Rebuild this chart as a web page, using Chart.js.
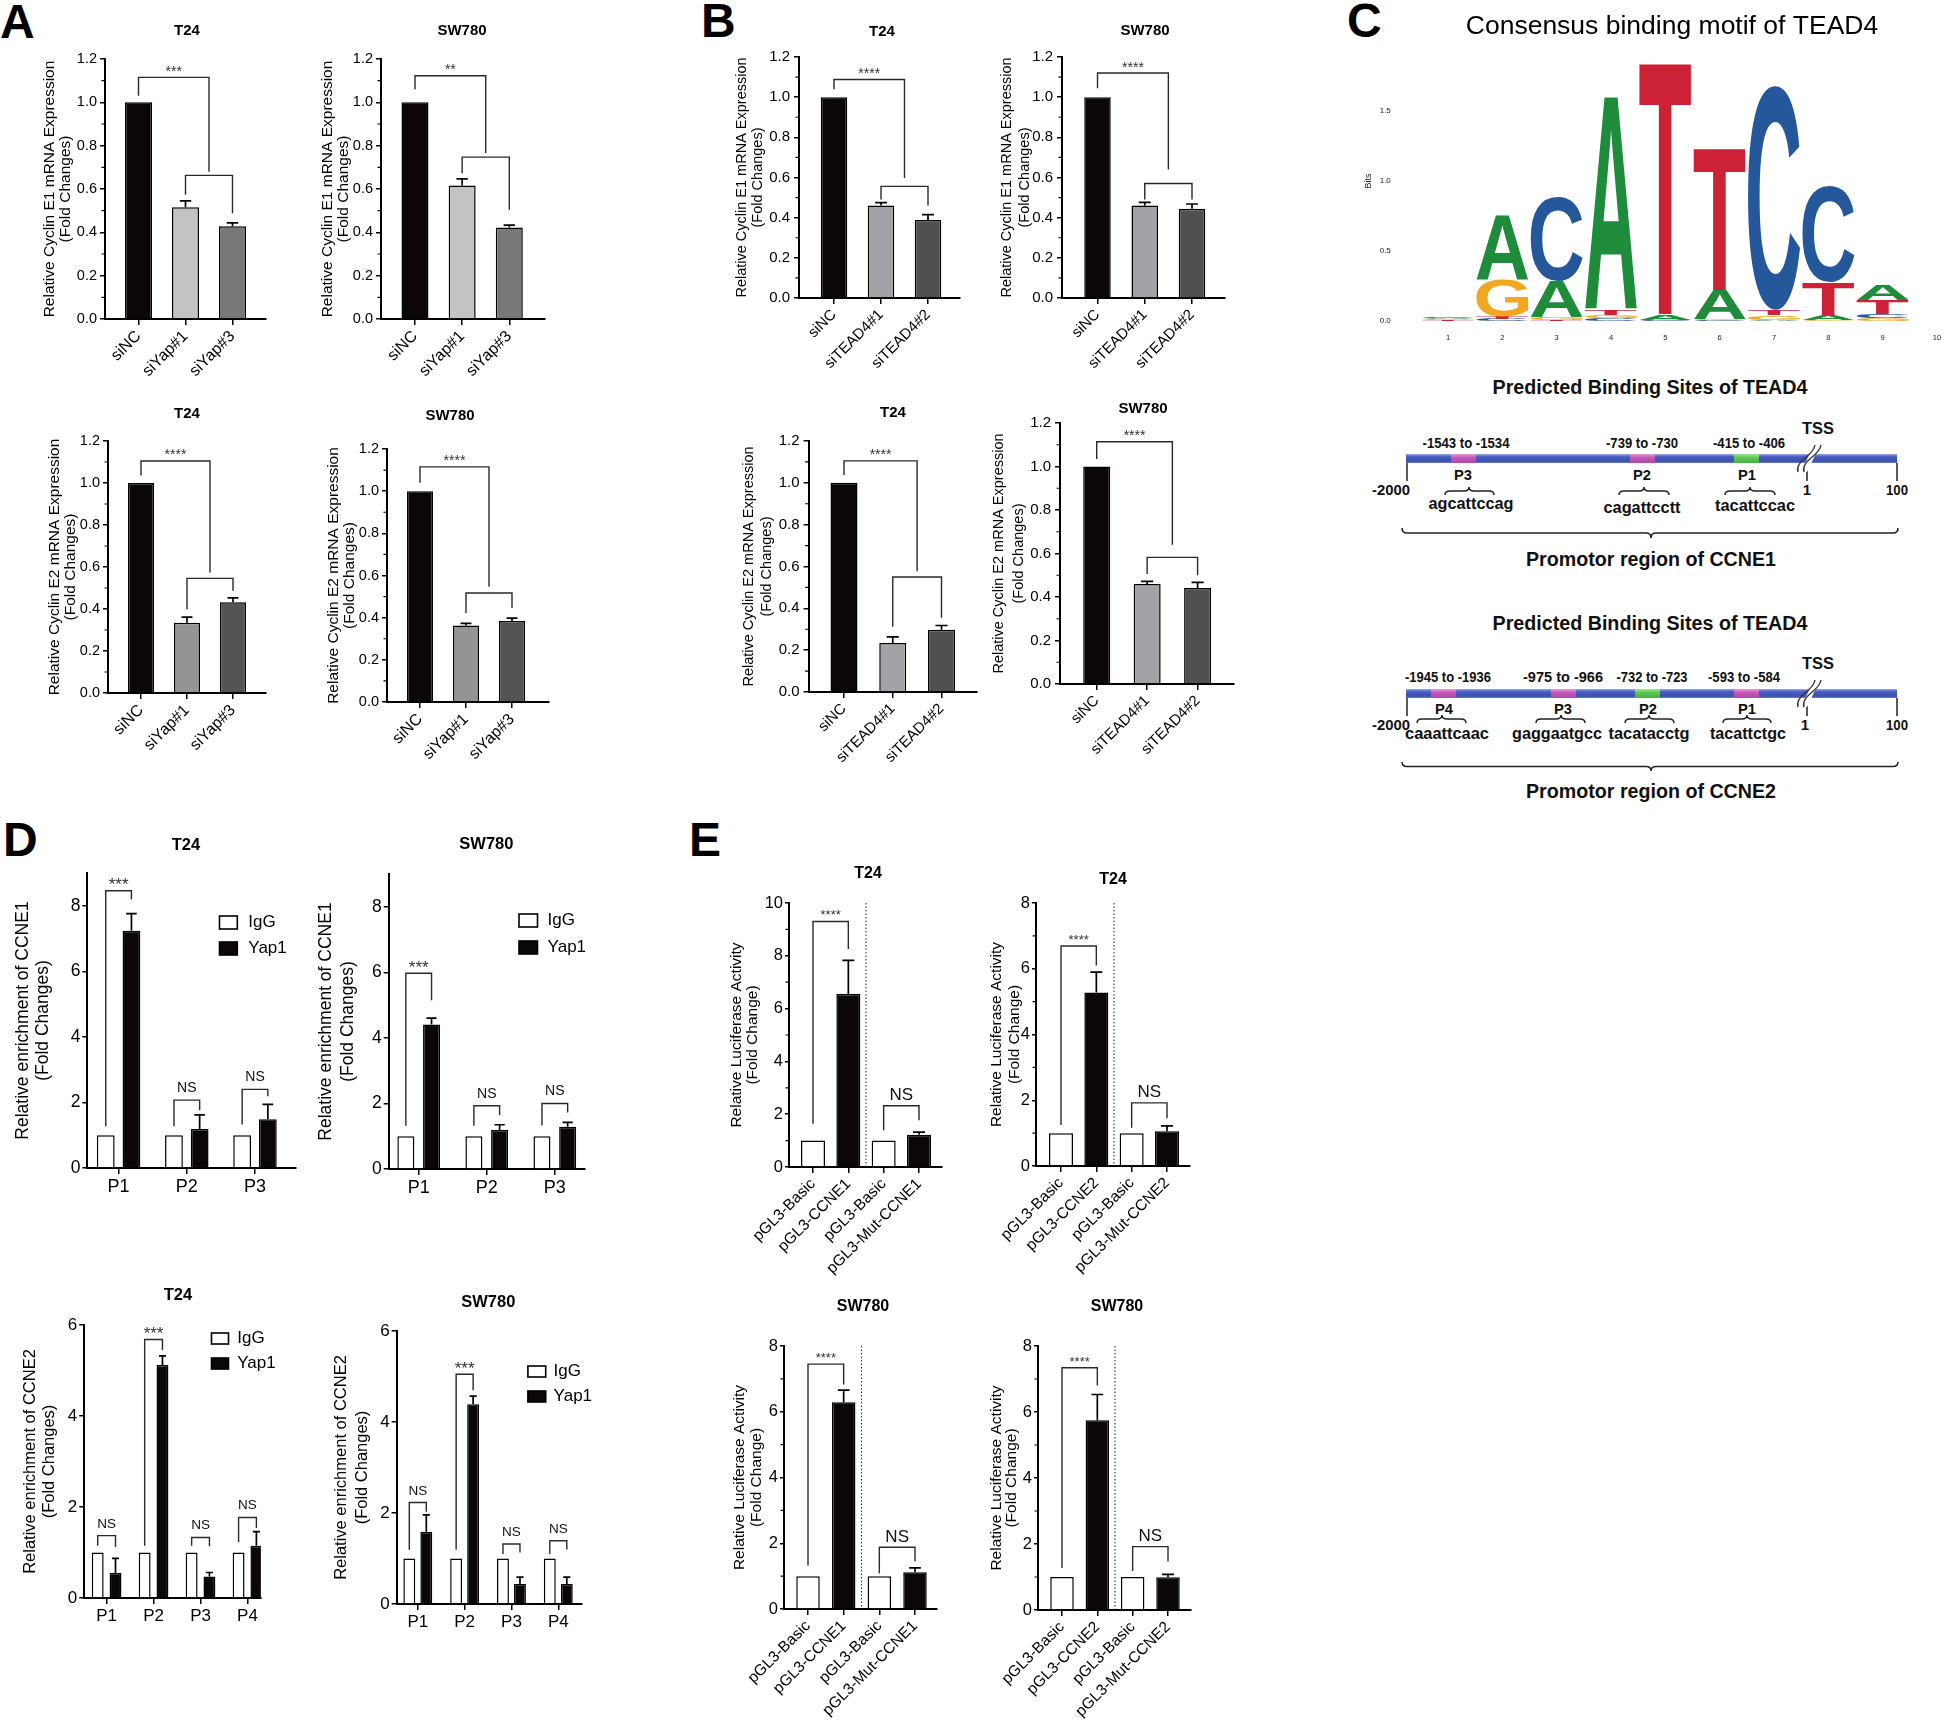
<!DOCTYPE html>
<html>
<head>
<meta charset="utf-8">
<title>Yap1 / TEAD4 and cyclin E</title>
<script src="https://cdn.jsdelivr.net/npm/chart.js@4.4.1/dist/chart.umd.min.js"></script>
<style>
  html, body { margin: 0; padding: 0; background: #fff; }
  #page { position: relative; width: 1944px; height: 1725px; overflow: hidden; background: #fff; }
  #page canvas { position: absolute; }
  #art { position: absolute; left: 0; top: 0; }
</style>
</head>
<body>
<div id="page">
  <svg id="art" width="1944" height="1725" xmlns="http://www.w3.org/2000/svg"></svg>
</div>
<script>
// ---------- data ----------
var siYapCats = ['siNC', 'siYap#1', 'siYap#3'];
var siTeadCats = ['siNC', 'siTEAD4#1', 'siTEAD4#2'];
var cycE1Title = ['Relative Cyclin E1 mRNA Expression', '(Fold Changes)'];
var cycE2Title = ['Relative Cyclin E2 mRNA Expression', '(Fold Changes)'];

// A: Yap1 knockdown
var aT24E1 = [1.0, 0.516, 0.428];
var aT24E1Err = [0, 0.029, 0.016];
var aSWE1 = [1.0, 0.616, 0.422];
var aSWE1Err = [0, 0.031, 0.011];
var aT24E2 = [1.0, 0.335, 0.432];
var aT24E2Err = [0, 0.026, 0.021];
var aSWE2 = [1.0, 0.363, 0.384];
var aSWE2Err = [0, 0.010, 0.014];
// brackets: [from, to, line value, left foot, right foot, text]
var aT24E1Sig = [[0, 1.5, 1.115, 1.03, 0.68, '***'], [1, 2, 0.663, 0.573, 0.488, '']];
var aSWE1Sig = [[0, 1.5, 1.123, 1.06, 0.766, '**'], [1, 2, 0.747, 0.673, 0.504, '']];
var aT24E2Sig = [[0, 1.5, 1.105, 1.036, 0.574, '****'], [1, 2, 0.546, 0.399, 0.487, '']];
var aSWE2Sig = [[0, 1.5, 1.115, 1.04, 0.547, '****'], [1, 2, 0.517, 0.422, 0.446, '']];

// B: TEAD4 knockdown
var bT24E1 = [1.0, 0.461, 0.388];
var bT24E1Err = [0, 0.014, 0.027];
var bSWE1 = [1.0, 0.461, 0.445];
var bSWE1Err = [0, 0.015, 0.023];
var bT24E2 = [1.0, 0.234, 0.298];
var bT24E2Err = [0, 0.030, 0.020];
var bSWE2 = [1.0, 0.460, 0.441];
var bSWE2Err = [0, 0.012, 0.026];
var bT24E1Sig = [[0, 1.5, 1.088, 1.04, 0.597, '****'], [1, 2, 0.556, 0.49, 0.46, '']];
var bSWE1Sig = [[0, 1.5, 1.12, 1.045, 0.64, '****'], [1, 2, 0.57, 0.49, 0.49, '']];
var bT24E2Sig = [[0, 1.5, 1.105, 1.037, 0.577, '****'], [1, 2, 0.55, 0.312, 0.355, '']];
var bSWE2Sig = [[0, 1.5, 1.114, 1.034, 0.64, '****'], [1, 2, 0.582, 0.506, 0.50, '']];

// C: motif logo (bits per letter and position)
var motifPos = ['1', '2', '3', '4', '5', '6', '7', '8', '9', '10'];
var motifA = [0.010, 0.46, 0.26, 1.52, 0.04, 0.21, 0.010, 0.04, 0.11, 0];
var motifC = [0.010, 0.015, 0.60, 0.02, 0.005, 0.005, 1.60, 0.69, 0.03, 0];
var motifG = [0.008, 0.26, 0.015, 0.02, 0.005, 0.01, 0.03, 0.005, 0.02, 0];
var motifT = [0.006, 0.02, 0.01, 0.04, 1.80, 1.015, 0.04, 0.23, 0.10, 0];
var ccne1Sites = ['P3', 'P2', 'P1'];
var ccne1Ranges = ['-1543 to -1534', '-739 to -730', '-415 to -406'];
var ccne1Seqs = ['agcattccag', 'cagattcctt', 'tacattccac'];
var ccne2Sites = ['P4', 'P3', 'P2', 'P1'];
var ccne2Ranges = ['-1945 to -1936', '-975 to -966', '-732 to -723', '-593 to -584'];
var ccne2Seqs = ['caaattcaac', 'gaggaatgcc', 'tacatacctg', 'tacattctgc'];

// D: ChIP-qPCR
var chipLegend = ['IgG', 'Yap1'];
var chipE1Cats = ['P1', 'P2', 'P3'];
var chipE2Cats = ['P1', 'P2', 'P3', 'P4'];
var dIgGE1 = [1, 1, 1];
var dIgGE2 = [1, 1, 1, 1];
var dT24Yap1E1 = [7.24, 1.19, 1.49];
var dT24Yap1E1Err = [0.52, 0.43, 0.45];
var dSWYap1E1 = [4.41, 1.19, 1.29];
var dSWYap1E1Err = [0.19, 0.16, 0.13];
var dT24Yap1E2 = [0.55, 5.12, 0.475, 1.15];
var dT24Yap1E2Err = [0.32, 0.20, 0.085, 0.31];
var dSWYap1E2 = [1.59, 4.39, 0.44, 0.44];
var dSWYap1E2Err = [0.37, 0.18, 0.15, 0.15];
var dT24E1Sig = [[[0, 0], [1, 0], 8.46, 1.27, 8.19, '***'], [[0, 1], [1, 1], 2.07, 1.27, 1.76, 'NS'], [[0, 2], [1, 2], 2.4, 1.33, 2.19, 'NS']];
var dSWE1Sig = [[[0, 0], [1, 0], 5.97, 1.32, 5.15, '***'], [[0, 1], [1, 1], 1.93, 1.32, 1.65, 'NS'], [[0, 2], [1, 2], 2.0, 1.33, 1.72, 'NS']];
var dT24E2Sig = [[[0, 0], [1, 0], 1.37, 1.15, 1.12, 'NS'], [[0, 1], [1, 1], 5.68, 1.15, 5.45, '***'], [[0, 2], [1, 2], 1.33, 1.15, 1.14, 'NS'], [[0, 3], [1, 3], 1.77, 1.23, 1.54, 'NS']];
var dSWE2Sig = [[[0, 0], [1, 0], 2.23, 1.19, 2.03, 'NS'], [[0, 1], [1, 1], 5.05, 1.19, 4.7, '***'], [[0, 2], [1, 2], 1.32, 1.1, 1.13, 'NS'], [[0, 3], [1, 3], 1.39, 1.1, 1.2, 'NS']];

// E: luciferase
var lucE1Cats = ['pGL3-Basic', 'pGL3-CCNE1', 'pGL3-Basic', 'pGL3-Mut-CCNE1'];
var lucE2Cats = ['pGL3-Basic', 'pGL3-CCNE2', 'pGL3-Basic', 'pGL3-Mut-CCNE2'];
var lucTitle = ['Relative Luciferase Activity', '(Fold Change)'];
var eT24E1 = [1, 6.55, 1, 1.22];
var eT24E1Err = [0, 1.28, 0, 0.10];
var eT24E2 = [1, 5.28, 1, 1.06];
var eT24E2Err = [0, 0.62, 0, 0.16];
var eSWE1 = [1, 6.29, 1, 1.12];
var eSWE1Err = [0, 0.37, 0, 0.13];
var eSWE2 = [1, 5.75, 1, 0.99];
var eSWE2Err = [0, 0.78, 0, 0.09];
var eT24E1Sig = [[0, 1, 9.3, 1.64, 8.26, '****'], [2, 3, 2.32, 1.39, 1.77, 'NS']];
var eT24E2Sig = [[0, 1, 6.69, 1.25, 6.1, '****'], [2, 3, 1.92, 1.16, 1.45, 'NS']];
var eSWE1Sig = [[0, 1, 7.45, 1.32, 6.83, '****'], [2, 3, 1.88, 1.09, 1.45, 'NS']];
var eSWE2Sig = [[0, 1, 7.34, 1.27, 6.8, '****'], [2, 3, 1.92, 1.18, 1.47, 'NS']];

// ---------- drawing ----------
var FONT = '"Liberation Sans", Arial, Helvetica, sans-serif';
Chart.defaults.font.family = FONT;
Chart.defaults.color = '#000';
Chart.defaults.animation = false;

var BLACK = '#0b0707';
var baseColors = { A: '#1f8c3c', C: '#24589a', G: '#f0a823', T: '#cd2236' };

function place(x, y, w, h) {
    var c = document.createElement('canvas');
    c.width = w; c.height = h;
    c.style.left = x + 'px'; c.style.top = y + 'px';
    c.style.width = w + 'px'; c.style.height = h + 'px';
    document.getElementById('page').appendChild(c);
    return c;
}

function xRef(chart, ref) {
    if (Array.isArray(ref)) return chart.getDatasetMeta(ref[0]).data[ref[1]].x;
    return chart.scales.x.getPixelForValue(ref);
}

function makeDecor(s, bx, by) {
    return {
        id: 'decor',
        afterDatasetsDraw: function(chart) {
            var ctx = chart.ctx, xs = chart.scales.x, ys = chart.scales.y, a = chart.chartArea;
            ctx.save();
            // minor ticks
            if (s.minor) {
                ctx.strokeStyle = '#000'; ctx.lineWidth = 1.2;
                ctx.beginPath();
                for (var k = 1; k * s.minor <= s.yMax + 1e-9; k++) {
                    var v = k * s.minor, q = v / s.yStep;
                    if (Math.abs(q - Math.round(q)) < 1e-6) continue;
                    var py = ys.getPixelForValue(v);
                    ctx.moveTo(a.left - 3.5, py); ctx.lineTo(a.left, py);
                }
                ctx.stroke();
            }
            // dotted divider
            if (s.divider != null) {
                var dx = xs.getPixelForValue(s.divider);
                ctx.setLineDash([1.5, 2]); ctx.strokeStyle = '#333'; ctx.lineWidth = 1.1;
                ctx.beginPath(); ctx.moveTo(dx, a.top); ctx.lineTo(dx, a.bottom); ctx.stroke();
                ctx.setLineDash([]);
            }
            // upper error bars
            chart.data.datasets.forEach(function(ds, di) {
                if (!ds.err) return;
                ctx.strokeStyle = '#000'; ctx.lineWidth = 1.7;
                chart.getDatasetMeta(di).data.forEach(function(bar, i) {
                    var e = ds.err[i];
                    if (!e) return;
                    var y0 = ys.getPixelForValue(ds.data[i]);
                    var y1 = ys.getPixelForValue(ds.data[i] + e);
                    var hw = bar.width * s.capFrac / 2;
                    ctx.beginPath();
                    ctx.moveTo(bar.x, y0); ctx.lineTo(bar.x, y1);
                    ctx.moveTo(bar.x - hw, y1); ctx.lineTo(bar.x + hw, y1);
                    ctx.stroke();
                });
            });
            // significance brackets
            (s.sig || []).forEach(function(b) {
                var x1 = xRef(chart, b[0]), x2 = xRef(chart, b[1]);
                var yl = ys.getPixelForValue(b[2]);
                ctx.strokeStyle = '#2a2a2a'; ctx.lineWidth = 1.4;
                ctx.beginPath();
                ctx.moveTo(x1, ys.getPixelForValue(b[3]));
                ctx.lineTo(x1, yl); ctx.lineTo(x2, yl);
                ctx.lineTo(x2, ys.getPixelForValue(b[4]));
                ctx.stroke();
                if (b[5]) {
                    var ns = b[5] === 'NS';
                    ctx.fillStyle = ns ? '#111' : '#333';
                    ctx.font = (ns ? s.nsSize : s.starSize) + 'px ' + FONT;
                    ctx.textAlign = 'center'; ctx.textBaseline = 'alphabetic';
                    ctx.fillText(b[5], (x1 + x2) / 2, yl - (ns ? s.nsGap : s.starGap));
                }
            });
            // legend inside the plot
            if (s.legend) {
                var L = s.legend;
                chart.data.datasets.forEach(function(ds, di) {
                    var lx = L.x - bx, ly = L.y - by + di * L.dy;
                    ctx.fillStyle = ds.backgroundColor; ctx.fillRect(lx, ly, L.w, L.h);
                    ctx.strokeStyle = '#000'; ctx.lineWidth = 1.6; ctx.strokeRect(lx, ly, L.w, L.h);
                    ctx.fillStyle = '#000'; ctx.font = L.size + 'px ' + FONT;
                    ctx.textAlign = 'left'; ctx.textBaseline = 'middle';
                    ctx.fillText(ds.label, L.tx - bx, ly + L.h / 2);
                });
            }
            // panel title
            ctx.fillStyle = '#000';
            ctx.font = 'bold ' + s.title.size + 'px ' + FONT;
            ctx.textAlign = 'center'; ctx.textBaseline = 'middle';
            ctx.fillText(s.title.text, s.title.x - bx, s.title.y - by);
            ctx.restore();
        }
    };
}

function barPanel(s) {
    var p = s.plot;
    var bx = Math.round(s.ylab.x - 20);
    var by = Math.round(Math.min(s.title.y, p.t) - 25);
    var bw = Math.round(p.r + 30 - bx);
    var bh = Math.round(p.b + 125 - by);
    var n = s.labels.length;
    var grouped = s.series.length > 1;
    var spacing = (s.centers[1] - s.centers[0]) / (n - 1);
    var padL = (s.centers[0] - p.l) / spacing - 0.5;
    var padR = (p.r - s.centers[1]) / spacing - 0.5;
    var catPct = grouped ? 2 * s.pairGap / spacing : 1;
    var barPct = grouped ? s.barW / s.pairGap : s.barW / spacing;
    var lh = s.ylab.gap;

    var datasets = s.series.map(function(se) {
        return {
            label: se.label, data: se.data, err: se.err,
            backgroundColor: se.color, borderColor: '#000', borderWidth: 1.5,
            categoryPercentage: catPct, barPercentage: barPct
        };
    });

    return new Chart(place(bx, by, bw, bh), {
        type: 'bar',
        data: { labels: s.labels, datasets: datasets },
        options: {
            responsive: false, animation: false,
            layout: { autoPadding: false, padding: { left: 0, top: p.t - by, right: bx + bw - p.r, bottom: 0 } },
            plugins: { legend: { display: false }, tooltip: { enabled: false }, title: { display: false } },
            scales: {
                x: {
                    type: 'category', offset: true,
                    afterBuildTicks: function(sc) { sc._startValue -= padL; sc._valueRange += padL + padR; },
                    afterFit: function(sc) { sc.height = by + bh - p.b; sc.paddingLeft = 0; sc.paddingRight = 0; },
                    ticks: { autoSkip: false, minRotation: s.rot, maxRotation: s.rot, padding: 2, color: '#000', font: { size: s.xTickSize } },
                    grid: { display: true, offset: false, drawOnChartArea: false, drawTicks: true, tickLength: 6, color: '#000', lineWidth: 1.5 },
                    border: { display: true, color: '#000', width: 2 }
                },
                y: {
                    min: 0, max: s.yMax,
                    afterFit: function(sc) { sc.width = p.l - bx; sc.paddingTop = 0; sc.paddingBottom = 0; },
                    ticks: {
                        stepSize: s.yStep, includeBounds: false, padding: s.tickPad, color: '#000', font: { size: s.tickSize },
                        callback: function(v) { return Number(v).toFixed(s.dec); }
                    },
                    grid: { display: true, drawOnChartArea: false, drawTicks: true, tickLength: s.tickLen, color: '#000', lineWidth: 1.5 },
                    border: { display: true, color: '#000', width: 2 },
                    title: {
                        display: true, text: s.ylab.text, color: '#000',
                        font: { size: s.ylab.size, lineHeight: lh / s.ylab.size },
                        padding: { top: (s.ylab.x - bx) - lh / 2, bottom: 0 }
                    }
                }
            }
        },
        plugins: [makeDecor(s, bx, by)]
    });
}

function merge(a, b) { return Object.assign({}, a, b); }

var styleA = { yMax: 1.2, yStep: 0.2, minor: 0.1, dec: 1, tickSize: 14.5, tickLen: 5, tickPad: 3, xTickSize: 16, rot: 45, starSize: 14, starGap: 1.5, capFrac: 0.42 };
var styleB = merge(styleA, { tickSize: 15, tickPad: 4, xTickSize: 15, capFrac: 0.45 });
var styleD = { yStep: 2, dec: 0, tickSize: 17.5, tickLen: 5, tickPad: 2, xTickSize: 18, rot: 0, starSize: 17, starGap: 0.5, nsSize: 14, nsGap: 8, capFrac: 0.6 };
var styleE = { yStep: 2, minor: 1, dec: 0, tickSize: 16.5, tickLen: 4, tickPad: 2, xTickSize: 15.5, rot: 45, starSize: 13, starGap: 2, nsSize: 17, nsGap: 5.5, capFrac: 0.5, divider: 1.5 };
var colorsA1 = [BLACK, '#c3c3c3', '#787878'];
var colorsA2 = [BLACK, '#949494', '#545454'];
var colorsB = [BLACK, '#a3a3a7', '#505050'];
var colorsE = ['#ffffff', BLACK, '#ffffff', BLACK];

// ----- A -----
barPanel(merge(styleA, { plot: { l: 105, r: 266, t: 59, b: 319 }, centers: [138.5, 232.5], barW: 27, labels: siYapCats,
    series: [{ data: aT24E1, err: aT24E1Err, color: colorsA1 }], sig: aT24E1Sig,
    title: { text: 'T24', x: 187, y: 31, size: 15 }, ylab: { text: cycE1Title, x: 50, gap: 15.5, size: 15.5 } }));
barPanel(merge(styleA, { plot: { l: 381, r: 545, t: 59, b: 319 }, centers: [415, 509.3], barW: 27, labels: siYapCats,
    series: [{ data: aSWE1, err: aSWE1Err, color: colorsA1 }], sig: aSWE1Sig,
    title: { text: 'SW780', x: 462, y: 31, size: 15 }, ylab: { text: cycE1Title, x: 328, gap: 16, size: 15.5 } }));
barPanel(merge(styleA, { plot: { l: 108, r: 266, t: 441, b: 693 }, centers: [141, 233], barW: 26, labels: siYapCats,
    series: [{ data: aT24E2, err: aT24E2Err, color: colorsA2 }], sig: aT24E2Sig,
    title: { text: 'T24', x: 187, y: 414, size: 15 }, ylab: { text: cycE2Title, x: 55, gap: 16, size: 15.5 } }));
barPanel(merge(styleA, { plot: { l: 387, r: 549, t: 449, b: 702 }, centers: [420, 512], barW: 26, labels: siYapCats,
    series: [{ data: aSWE2, err: aSWE2Err, color: colorsA2 }], sig: aSWE2Sig,
    title: { text: 'SW780', x: 450, y: 416, size: 15 }, ylab: { text: cycE2Title, x: 334, gap: 16, size: 15.5 } }));

// ----- B -----
barPanel(merge(styleB, { plot: { l: 799, r: 960, t: 57, b: 298 }, centers: [834, 928], barW: 26.5, labels: siTeadCats,
    series: [{ data: bT24E1, err: bT24E1Err, color: colorsB }], sig: bT24E1Sig,
    title: { text: 'T24', x: 882, y: 32, size: 15 }, ylab: { text: cycE1Title, x: 742, gap: 16, size: 14.5 } }));
barPanel(merge(styleB, { plot: { l: 1062, r: 1225, t: 57, b: 298 }, centers: [1097.5, 1192], barW: 26.5, labels: siTeadCats,
    series: [{ data: bSWE1, err: bSWE1Err, color: colorsB }], sig: bSWE1Sig,
    title: { text: 'SW780', x: 1145, y: 31, size: 15 }, ylab: { text: cycE1Title, x: 1007, gap: 18, size: 14.5 } }));
barPanel(merge(styleB, { plot: { l: 808.6, r: 976.5, t: 441, b: 692 }, centers: [844, 941.5], barW: 27, labels: siTeadCats,
    series: [{ data: bT24E2, err: bT24E2Err, color: colorsB }], sig: bT24E2Sig,
    title: { text: 'T24', x: 893, y: 413, size: 15 }, ylab: { text: cycE2Title, x: 749, gap: 18, size: 14.5 } }));
barPanel(merge(styleB, { plot: { l: 1060, r: 1234, t: 423, b: 684 }, centers: [1096.7, 1197.6], barW: 27, labels: siTeadCats,
    series: [{ data: bSWE2, err: bSWE2Err, color: colorsB }], sig: bSWE2Sig,
    title: { text: 'SW780', x: 1143, y: 409, size: 15 }, ylab: { text: cycE2Title, x: 999, gap: 20, size: 14.5 } }));

// ----- D -----
barPanel(merge(styleD, { yMax: 9, plot: { l: 87.4, r: 295.8, t: 873, b: 1168 }, centers: [118.6, 255], pairGap: 25.7, barW: 17.8, labels: chipE1Cats,
    series: [{ label: chipLegend[0], data: dIgGE1, color: '#ffffff' }, { label: chipLegend[1], data: dT24Yap1E1, err: dT24Yap1E1Err, color: BLACK }],
    sig: dT24E1Sig, legend: { x: 219.5, y: 916, w: 17.8, h: 13, dy: 26, tx: 248.3, size: 17 },
    title: { text: 'T24', x: 186, y: 845, size: 16.5 }, ylab: { text: ['Relative enrichment of CCNE1', '(Fold Changes)'], x: 23, gap: 20, size: 17.5 } }));
barPanel(merge(styleD, { yMax: 9, plot: { l: 388.7, r: 584.4, t: 874, b: 1169 }, centers: [418.7, 554.8], pairGap: 25.7, barW: 17, labels: chipE1Cats,
    series: [{ label: chipLegend[0], data: dIgGE1, color: '#ffffff' }, { label: chipLegend[1], data: dSWYap1E1, err: dSWYap1E1Err, color: BLACK }],
    sig: dSWE1Sig, legend: { x: 519, y: 914, w: 18.5, h: 13, dy: 27, tx: 547.6, size: 17 },
    title: { text: 'SW780', x: 486.4, y: 844, size: 16.5 }, ylab: { text: ['Relative enrichment of CCNE1', '(Fold Changes)'], x: 326, gap: 22, size: 17.5 } }));
barPanel(merge(styleD, { yMax: 6, plot: { l: 84.2, r: 261, t: 1325, b: 1598 }, centers: [106.6, 247.5], pairGap: 17.8, barW: 11.9, labels: chipE2Cats,
    series: [{ label: chipLegend[0], data: dIgGE2, color: '#ffffff' }, { label: chipLegend[1], data: dT24Yap1E2, err: dT24Yap1E2Err, color: BLACK }],
    sig: dT24E2Sig, legend: { x: 211.5, y: 1333, w: 17, h: 11, dy: 25, tx: 237.2, size: 17 }, nsSize: 13.5, tickSize: 17, xTickSize: 17,
    title: { text: 'T24', x: 178, y: 1295, size: 16.5 }, ylab: { text: ['Relative enrichment of CCNE2', '(Fold Changes)'], x: 30, gap: 19.5, size: 16.5 } }));
barPanel(merge(styleD, { yMax: 6, plot: { l: 396.6, r: 581.3, t: 1331, b: 1604 }, centers: [417.8, 558.3], pairGap: 17, barW: 11.9, labels: chipE2Cats,
    series: [{ label: chipLegend[0], data: dIgGE2, color: '#ffffff' }, { label: chipLegend[1], data: dSWYap1E2, err: dSWYap1E2Err, color: BLACK }],
    sig: dSWE2Sig, legend: { x: 527.9, y: 1366, w: 17.8, h: 11, dy: 25, tx: 553.6, size: 17 }, nsSize: 13.5, tickSize: 17, xTickSize: 17,
    title: { text: 'SW780', x: 488.3, y: 1302, size: 16.5 }, ylab: { text: ['Relative enrichment of CCNE2', '(Fold Changes)'], x: 341, gap: 21, size: 16.5 } }));

// ----- E -----
barPanel(merge(styleE, { yMax: 10, plot: { l: 789, r: 942, t: 903, b: 1167 }, centers: [813, 919], barW: 24, labels: lucE1Cats,
    series: [{ data: eT24E1, err: eT24E1Err, color: colorsE }], sig: eT24E1Sig,
    title: { text: 'T24', x: 868, y: 874, size: 16 }, ylab: { text: lucTitle, x: 737, gap: 16, size: 15.5 } }));
barPanel(merge(styleE, { yMax: 8, plot: { l: 1036, r: 1190, t: 903, b: 1166 }, centers: [1061, 1167], barW: 24, labels: lucE2Cats,
    series: [{ data: eT24E2, err: eT24E2Err, color: colorsE }], sig: eT24E2Sig,
    title: { text: 'T24', x: 1113, y: 880, size: 16 }, ylab: { text: lucTitle, x: 997, gap: 18, size: 15.5 } }));
barPanel(merge(styleE, { yMax: 8, plot: { l: 784, r: 937, t: 1346, b: 1609 }, centers: [808, 915], barW: 23.5, labels: lucE1Cats,
    series: [{ data: eSWE1, err: eSWE1Err, color: colorsE }], sig: eSWE1Sig,
    title: { text: 'SW780', x: 863, y: 1307, size: 16 }, ylab: { text: lucTitle, x: 740, gap: 17, size: 15.5 } }));
barPanel(merge(styleE, { yMax: 8, plot: { l: 1038, r: 1191, t: 1346, b: 1610 }, centers: [1062, 1168], barW: 23.5, labels: lucE2Cats,
    series: [{ data: eSWE2, err: eSWE2Err, color: colorsE }], sig: eSWE2Sig,
    title: { text: 'SW780', x: 1117, y: 1307, size: 16 }, ylab: { text: lucTitle, x: 997, gap: 15, size: 15.5 } }));

// ----- C: sequence logo -----
function drawGlyph(ctx, ch, color, x0, y0, w, h) {
    ctx.save();
    ctx.font = 'bold 200px ' + FONT;
    ctx.textAlign = 'left'; ctx.textBaseline = 'alphabetic';
    var m = ctx.measureText(ch);
    var gl = m.actualBoundingBoxLeft, gw = gl + m.actualBoundingBoxRight;
    var ga = m.actualBoundingBoxAscent, gh = ga + m.actualBoundingBoxDescent;
    ctx.translate(x0, y0);
    ctx.scale(w / gw, h / gh);
    ctx.fillStyle = color;
    ctx.fillText(ch, gl, ga);
    ctx.restore();
}

function logoPanel() {
    var bx = 1340, by = 0, bw = 640, bh = 352;
    var l = 1420.8, r = 1964.2, t = 41, b = 321;
    var stacks = [[], [], [], []], glyphs = [[], [], [], []];
    motifPos.forEach(function(pos, i) {
        var col = [['A', motifA[i]], ['C', motifC[i]], ['G', motifG[i]], ['T', motifT[i]]];
        col.sort(function(u, v) { return u[1] - v[1]; });
        col.forEach(function(c, k) { stacks[k].push(c[1]); glyphs[k].push(c[0]); });
    });
    var letterPlugin = {
        id: 'letters',
        afterDatasetsDraw: function(chart) {
            var ctx = chart.ctx;
            chart.data.datasets.forEach(function(ds, di) {
                chart.getDatasetMeta(di).data.forEach(function(bar, i) {
                    var h = bar.base - bar.y;
                    if (h < 0.6) return;
                    var g = ds.glyphs[i];
                    drawGlyph(ctx, g, baseColors[g], bar.x - bar.width / 2, bar.y, bar.width, h);
                });
            });
            ctx.save();
            ctx.fillStyle = '#000';
            ctx.font = '26.5px ' + FONT;
            ctx.textAlign = 'center'; ctx.textBaseline = 'middle';
            ctx.fillText('Consensus binding motif of TEAD4', 1672 - bx, 27 - by);
            ctx.restore();
        }
    };
    new Chart(place(bx, by, bw, bh), {
        type: 'bar',
        data: {
            labels: motifPos,
            datasets: stacks.map(function(d, k) {
                return { data: d, glyphs: glyphs[k], backgroundColor: 'rgba(0,0,0,0)', borderWidth: 0, barPercentage: 0.957, categoryPercentage: 1 };
            })
        },
        options: {
            responsive: false, animation: false,
            layout: { autoPadding: false, padding: { left: 0, top: t - by, right: bx + bw - r, bottom: 0 } },
            plugins: { legend: { display: false }, tooltip: { enabled: false } },
            scales: {
                x: {
                    stacked: true,
                    afterFit: function(sc) { sc.height = by + bh - b; sc.paddingLeft = 0; sc.paddingRight = 0; },
                    ticks: { font: { size: 7.5 }, color: '#222', padding: 12, maxRotation: 0 },
                    grid: { display: false, drawTicks: false }, border: { display: false }
                },
                y: {
                    stacked: true, min: 0, max: 2,
                    afterFit: function(sc) { sc.width = l - bx; sc.paddingTop = 0; sc.paddingBottom = 0; },
                    ticks: { stepSize: 0.5, font: { size: 8 }, color: '#222', padding: 30, callback: function(v) { return v >= 2 ? '' : Number(v).toFixed(1); } },
                    grid: { display: false, drawTicks: false }, border: { display: false },
                    title: { display: true, text: 'Bits', font: { size: 9 }, color: '#222', padding: { top: 23.6, bottom: 0 } }
                }
            }
        },
        plugins: [letterPlugin]
    });
}
logoPanel();

// ----- C: promoter schematics (SVG) -----
var SVGNS = 'http://www.w3.org/2000/svg';
var art = document.getElementById('art');
art.innerHTML =
    '<defs>' +
    '<linearGradient id="barGrad" x1="0" y1="0" x2="0" y2="1"><stop offset="0" stop-color="#9aaae6"/><stop offset="0.3" stop-color="#4a5ec0"/><stop offset="0.8" stop-color="#3a4fae"/><stop offset="1" stop-color="#6d80cf"/></linearGradient>' +
    '<linearGradient id="pinkGrad" x1="0" y1="0" x2="0" y2="1"><stop offset="0" stop-color="#e39ad8"/><stop offset="0.4" stop-color="#c458b8"/><stop offset="1" stop-color="#b04aa4"/></linearGradient>' +
    '<linearGradient id="greenGrad" x1="0" y1="0" x2="0" y2="1"><stop offset="0" stop-color="#9ce896"/><stop offset="0.4" stop-color="#5cc656"/><stop offset="1" stop-color="#48b042"/></linearGradient>' +
    '</defs>';

function svgEl(tag, attrs, text) {
    var e = document.createElementNS(SVGNS, tag);
    for (var k in attrs) e.setAttribute(k, attrs[k]);
    if (text != null) e.textContent = text;
    art.appendChild(e);
    return e;
}
function svgText(x, y, str, size, width, weight) {
    var a = { x: x, y: y, 'font-size': size, 'font-family': FONT, 'font-weight': weight || 'bold', 'text-anchor': 'middle', 'dominant-baseline': 'central', fill: '#111' };
    if (width) { a.textLength = width; a.lengthAdjust = 'spacingAndGlyphs'; }
    return svgEl('text', a, str);
}
function brace(x0, x1, xm, ye, yt) {
    var yl = (ye + yt) / 2, c = 5;
    var d = 'M' + x0 + ',' + ye + ' Q' + x0 + ',' + yl + ' ' + (x0 + c) + ',' + yl +
        ' L' + (xm - c) + ',' + yl + ' Q' + xm + ',' + yl + ' ' + xm + ',' + yt +
        ' Q' + xm + ',' + yl + ' ' + (xm + c) + ',' + yl +
        ' L' + (x1 - c) + ',' + yl + ' Q' + x1 + ',' + yl + ' ' + x1 + ',' + ye;
    svgEl('path', { d: d, fill: 'none', stroke: '#222', 'stroke-width': 1.5 });
}

var ccne1Layout = {
    title: 387, tss: 428, range: 443, bar: 454, p: 474, braceEnd: 495, braceTip: 487,
    bigEnd: 528, bigTip: 538, region: 559, one: 1807, regionText: 'Promotor region of CCNE1',
    boxX: [1451, 1630, 1734], green: [false, false, true],
    rangeX: [1466, 1642, 1749], rangeW: [87, 72, 72],
    pX: [1463, 1642, 1747],
    braceX: [[1445, 1494, 1469], [1619, 1669, 1644], [1725, 1775, 1750]],
    seqX: [1471, 1642, 1755], seqY: [503, 507, 505], seqW: [85, 77, 80]
};
var ccne2Layout = {
    title: 623, tss: 663, range: 677, bar: 689, p: 708, braceEnd: 723, braceTip: 715,
    bigEnd: 762, bigTip: 771, region: 791, one: 1805, regionText: 'Promotor region of CCNE2',
    boxX: [1431, 1551, 1635, 1734], green: [false, false, true, false],
    rangeX: [1448, 1563, 1652, 1744], rangeW: [86, 80, 71, 72],
    pX: [1444, 1563, 1648, 1747],
    braceX: [[1417, 1466, 1442], [1536, 1585, 1561], [1625, 1674, 1649], [1723, 1771, 1747]],
    seqX: [1447, 1557, 1649, 1748], seqY: [733, 733, 733, 733], seqW: [84, 90, 81, 76]
};

function promoter(L, sites, ranges, seqs) {
    var y = L.bar;
    svgText(1650, L.title, 'Predicted Binding Sites of TEAD4', 19.5, 315);
    svgText(1818, L.tss, 'TSS', 16.5, 32);
    svgEl('rect', { x: 1406, y: y, width: 491, height: 9, fill: 'url(#barGrad)' });
    // end ticks and coordinates
    [1407, 1807, 1897].forEach(function(x) {
        svgEl('line', { x1: x, y1: y + 9, x2: x, y2: y + 27, stroke: '#222', 'stroke-width': 1.5 });
    });
    svgText(1391, y + 35, '-2000', 15, 38);
    svgText(L.one, y + 35, '1', 15);
    svgText(1897, y + 35, '100', 15, 22);
    // axis break
    svgEl('polygon', { points: '1801,' + (y + 18) + ' 1807,' + (y + 18) + ' 1820,' + (y - 9) + ' 1814,' + (y - 9), fill: '#fff' });
    [0, 6].forEach(function(o) {
        svgEl('path', { d: 'M' + (1798 + o) + ',' + (y + 18) + ' Q' + (1796 + o) + ',' + (y + 11) + ' ' + (1805 + o) + ',' + (y + 4) + ' T' + (1815 + o) + ',' + (y - 9), fill: 'none', stroke: '#333', 'stroke-width': 1.4 });
    });
    sites.forEach(function(name, i) {
        svgEl('rect', { x: L.boxX[i], y: y, width: 25, height: 9, fill: L.green[i] ? 'url(#greenGrad)' : 'url(#pinkGrad)' });
        svgText(L.rangeX[i], L.range, ranges[i], 14, L.rangeW[i]);
        svgText(L.pX[i], L.p, name, 15.5, 18);
        brace(L.braceX[i][0], L.braceX[i][1], L.braceX[i][2], L.braceEnd, L.braceTip);
        svgText(L.seqX[i], L.seqY[i], seqs[i], 17, L.seqW[i]);
    });
    brace(1402, 1898, 1651, L.bigEnd, L.bigTip);
    svgText(1651, L.region, L.regionText, 19.5, 250);
}
promoter(ccne1Layout, ccne1Sites, ccne1Ranges, ccne1Seqs);
promoter(ccne2Layout, ccne2Sites, ccne2Ranges, ccne2Seqs);

// panel letters
[['A', 0, 38], ['B', 701, 37], ['C', 1347, 37], ['D', 3, 856], ['E', 689, 856]].forEach(function(p) {
    svgEl('text', { x: p[1], y: p[2], 'font-size': 48, 'font-weight': 'bold', 'font-family': FONT, fill: '#000' }, p[0]);
});
</script>
</body>
</html>
